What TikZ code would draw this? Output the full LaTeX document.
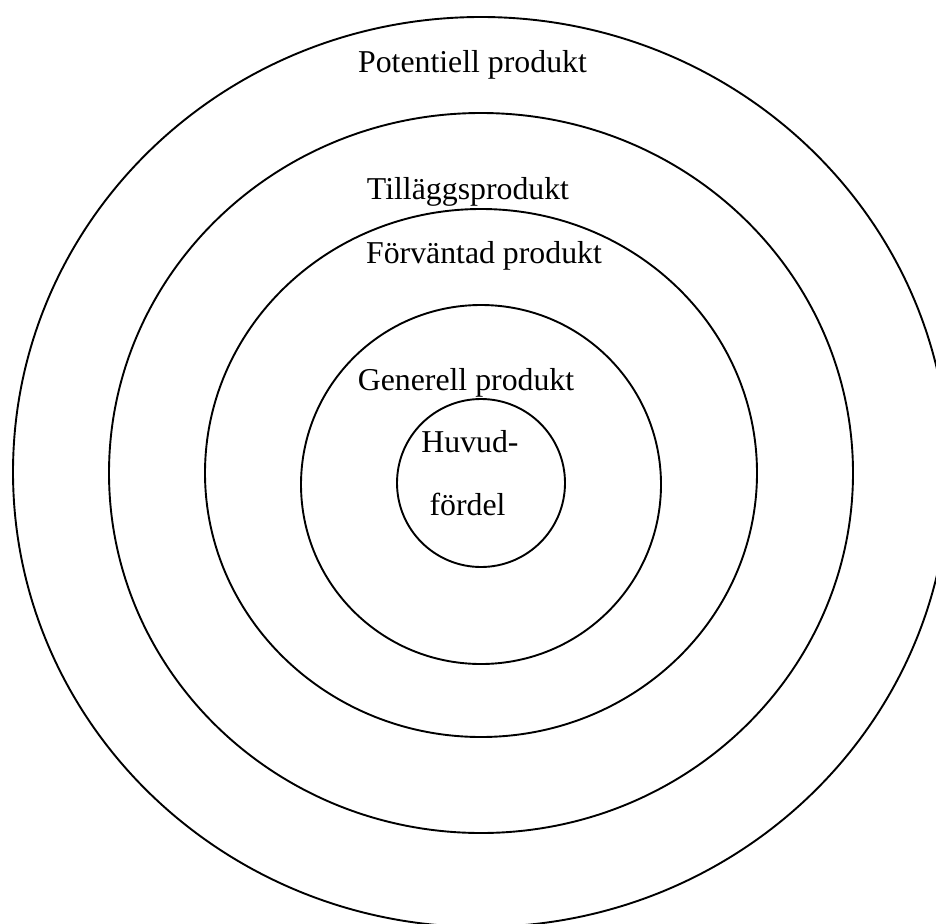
\documentclass[tikz,border=0pt]{standalone}
\usepackage{fontspec}
\setmainfont{Liberation Serif}
\begin{document}
\begin{tikzpicture}[x=1pt,y=-1pt,
  ring/.style={draw=black,line width=1.9pt},
  lbl/.style={anchor=base,inner sep=0pt,font=\fontsize{31.8}{38}\selectfont}]
\useasboundingbox (0,0) rectangle (936,923);
\clip (0,0) rectangle (936,923);

% centres of the rings
\coordinate (c1) at (481,472);
\coordinate (c2) at (481,473);
\coordinate (c3) at (481,473);
\coordinate (c4) at (481,484.5);
\coordinate (c5) at (481,483);

% product levels, outermost first
\draw[ring] (c1) ellipse [x radius=468pt, y radius=455pt];
\draw[ring] (c2) ellipse [x radius=372pt, y radius=360pt];
\draw[ring] (c3) ellipse [x radius=276pt, y radius=264pt];
\draw[ring] (c4) ellipse [x radius=180pt, y radius=179.5pt];
\draw[ring] (c5) ellipse [x radius=84pt, y radius=84pt];

% labels
\node[lbl] (pot) at (472.5,73) {Potentiell produkt};
\node[lbl] (till) at (468,199) {Tilläggsprodukt};
\node[lbl] (forv) at (484,263) {Förväntad produkt};
\node[lbl] (gen) at (466,390) {Generell produkt};
\node[lbl] (huv) at (470,452.7) {Huvud-};
\node[lbl] (ford) at (467.5,515) {fördel};
\end{tikzpicture}
\end{document}
